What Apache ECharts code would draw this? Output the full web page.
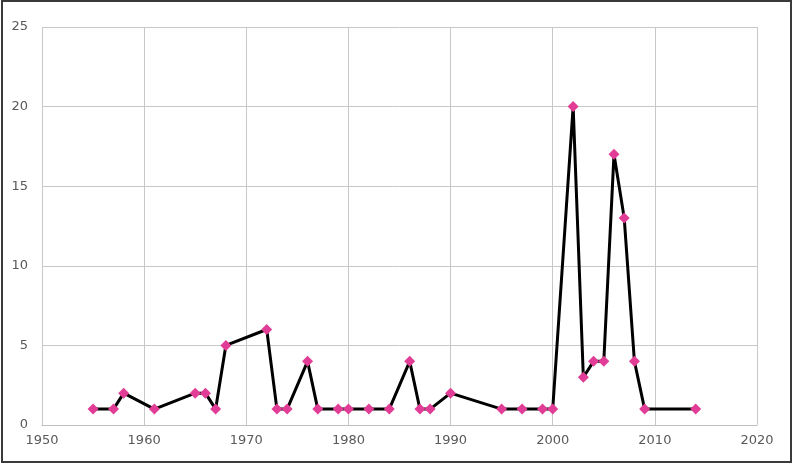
<!DOCTYPE html>
<html>
<head>
<meta charset="utf-8">
<style>html,body{margin:0;padding:0;background:#fff;}#chart{width:794px;height:464px;}</style>
<script src="https://cdn.jsdelivr.net/npm/echarts@6/dist/echarts.min.js"></script>
</head>
<body>
<div id="chart"></div>
<script>
var years = [1955,1957,1958,1961,1965,1966,1967,1968,1972,1973,1974,1976,1977,1979,1980,1982,1984,1986,1987,1988,1990,1995,1997,1999,2000,2002,2003,2004,2005,2006,2007,2008,2009,2014];
var values = [1,1,2,1,2,2,1,5,6,1,1,4,1,1,1,1,1,4,1,1,2,1,1,1,1,20,3,4,4,17,13,4,1,1];
var xMin = 1950, xMax = 2020, xStep = 10;
var yMin = 0, yMax = 25, yStep = 5;

var data = years.map(function (y, i) { return [y, values[i]]; });
var chart = echarts.init(document.getElementById('chart'), null, {renderer: 'canvas'});
var labelFont = {color: '#595959', fontSize: 13, fontFamily: 'DejaVu Sans'};
chart.setOption({
  animation: false,
  backgroundColor: '#ffffff',
  grid: {left: 42, right: 37, top: 27, bottom: 39, containLabel: false},
  xAxis: {
    type: 'value', min: xMin, max: xMax, interval: xStep,
    axisLine: {show: true, lineStyle: {color: '#bfbfbf', width: 1}},
    axisTick: {show: false},
    splitLine: {show: true, lineStyle: {color: '#c8c8c8', width: 1}},
    axisLabel: Object.assign({margin: 9, formatter: function (v) { return String(v); }}, labelFont)
  },
  yAxis: {
    type: 'value', min: yMin, max: yMax, interval: yStep,
    axisLine: {show: false},
    axisTick: {show: false},
    splitLine: {show: true, lineStyle: {color: '#c8c8c8', width: 1}},
    axisLabel: Object.assign({margin: 14}, labelFont)
  },
  series: [{
    type: 'line',
    data: data,
    symbol: 'diamond',
    symbolSize: 11,
    showAllSymbol: true,
    lineStyle: {color: '#000000', width: 3},
    itemStyle: {color: '#e23d96', borderWidth: 0}
  }],
  graphic: [{
    type: 'rect', silent: true,
    shape: {x: 2, y: 1, width: 789, height: 461},
    style: {fill: 'none', stroke: '#3a3a3a', lineWidth: 2}
  }]
});
</script>
</body>
</html>
